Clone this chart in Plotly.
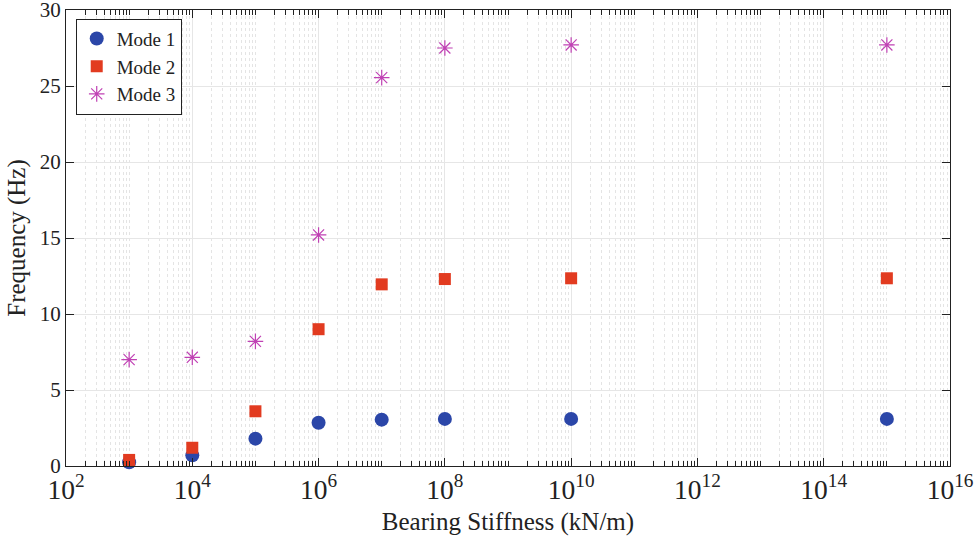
import plotly.graph_objects as go

stiffness = [1e3, 1e4, 1e5, 1e6, 1e7, 1e8, 1e10, 1e15]
mode1 = [0.25, 0.7, 1.8, 2.85, 3.05, 3.1, 3.1, 3.1]
mode2 = [0.4, 1.2, 3.6, 9.0, 11.95, 12.3, 12.35, 12.35]
mode3 = [7.0, 7.15, 8.2, 15.2, 25.55, 27.5, 27.7, 27.7]

FONT = "Liberation Serif"

fig = go.Figure()
fig.add_trace(go.Scatter(x=stiffness, y=mode1, mode="markers", name="Mode 1", cliponaxis=False,
                         marker=dict(symbol="circle", size=14, color="#2b46a8")))
fig.add_trace(go.Scatter(x=stiffness, y=mode2, mode="markers", name="Mode 2", cliponaxis=False,
                         marker=dict(symbol="square", size=12, color="#e23b20")))
fig.add_trace(go.Scatter(x=stiffness, y=mode3, mode="markers", name="Mode 3", cliponaxis=False,
                         marker=dict(symbol="asterisk-open", size=13, color="#c041b4",
                                     line=dict(color="#c041b4", width=1.2))))

fig.update_layout(
    width=974, height=542,
    margin=dict(l=66, r=24, t=10, b=76, autoexpand=False),
    paper_bgcolor="white", plot_bgcolor="white",
    font=dict(family=FONT, size=21, color="#222"),
    showlegend=True,
    legend=dict(x=0.011, y=0.981, xanchor="left", yanchor="top",
                bordercolor="#222", borderwidth=1, bgcolor="white",
                font=dict(family=FONT, size=19), itemwidth=30,
                tracegroupgap=0),
)
fig.update_xaxes(
    type="log", range=[2, 16], dtick=2, exponentformat="power", automargin=False,
    ticklabeloverflow="allow",
    tickfont=dict(family=FONT, size=22),
    title=dict(text="Bearing Stiffness (kN/m)", font=dict(family=FONT, size=25), standoff=8),
    showline=True, linecolor="#222", linewidth=1.2, mirror="ticks",
    ticks="inside", ticklen=8, tickcolor="#222",
    showgrid=True, gridcolor="#e6e6e6", gridwidth=1,
    minor=dict(dtick="D1", ticks="inside", ticklen=5, tickcolor="#222",
               showgrid=True, gridcolor="#e4e4e4", griddash="dot", gridwidth=1),
    zeroline=False,
)
fig.update_yaxes(
    range=[0, 30], dtick=5, automargin=False,
    ticklabeloverflow="allow",
    tickfont=dict(family=FONT, size=21),
    title=dict(text="Frequency (Hz)", font=dict(family=FONT, size=25), standoff=6),
    showline=True, linecolor="#222", linewidth=1.2, mirror="ticks",
    ticks="inside", ticklen=8, tickcolor="#222",
    showgrid=True, gridcolor="#e6e6e6", gridwidth=1,
    zeroline=False,
)

fig.write_html("out.html", config={"displayModeBar": False},
               post_script="document.body.style.margin='0';")
